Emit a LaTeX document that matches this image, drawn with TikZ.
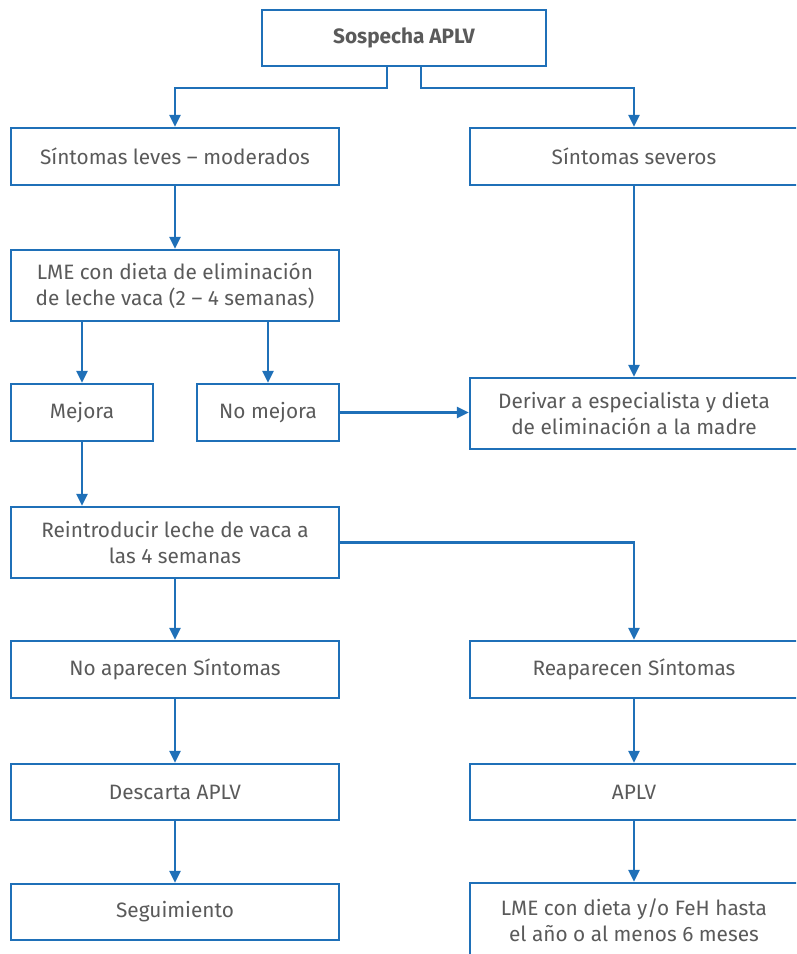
\documentclass[tikz,border=0pt]{standalone}
\usepackage{fontspec}
\setmainfont{Fira Sans}
\usetikzlibrary{arrows.meta}
\definecolor{bx}{HTML}{1F70B8}
\definecolor{tx}{HTML}{5A5A5A}
\tikzset{
  box/.style={draw=bx, line width=2.4pt, fill=white, inner sep=0pt, align=center,
    text=tx, font=\fontsize{20.8}{26}\selectfont},
  arr/.style={draw=bx, line width=2.4pt, -{Triangle[width=11pt,length=12pt]}},
}
\begin{document}
\begin{tikzpicture}[x=1pt,y=-1pt]
\useasboundingbox (0,0) rectangle (796,954);
\clip (0,0) rectangle (796,954);
\node[box, minimum width=284, minimum height=56, font=\fontsize{20.8}{26}\selectfont\bfseries] (top) at (404,38) {Sospecha APLV};
\node[box, minimum width=328, minimum height=57] (leves) at (175,156.5) {Síntomas leves – moderados};
\node[box, minimum width=328, minimum height=57] (sev) at (634,156.5) {Síntomas severos};
\node[box, minimum width=328, minimum height=71] (lme) at (175,285.5) {LME con dieta de eliminación\\de leche vaca (2 – 4 semanas)};
\node[box, minimum width=142, minimum height=57] (mej) at (82,412.5) {Mejora};
\node[box, minimum width=142, minimum height=57] (nomej) at (268,412.5) {No mejora};
\node[box, minimum width=328, minimum height=71] (der) at (634,413.5) {Derivar a especialista y dieta\\de eliminación a la madre};
\node[box, minimum width=328, minimum height=71] (re) at (175,542.5) {Reintroducir leche de vaca a\\las 4 semanas};
\node[box, minimum width=328, minimum height=57] (noap) at (175,669.5) {No aparecen Síntomas};
\node[box, minimum width=328, minimum height=57] (reap) at (634,669.5) {Reaparecen Síntomas};
\node[box, minimum width=328, minimum height=56] (desc) at (175,792) {Descarta APLV};
\node[box, minimum width=328, minimum height=56] (aplv) at (634,792) {APLV};
\node[box, minimum width=328, minimum height=56] (seg) at (175,912) {Seguimiento};
\node[box, minimum width=328, minimum height=74] (fin) at (634,920) {LME con dieta y/o FeH hasta\\el año o al menos 6 meses};
\draw[arr] ([xshift=-17pt]top.south) -- ++(0,21) -| (leves.north);
\draw[arr] ([xshift=17pt]top.south) -- ++(0,21) -| (sev.north);
\draw[arr] (leves.south) -- (lme.north);
\draw[arr] (lme.south -| mej.north) -- (mej.north);
\draw[arr] (lme.south -| nomej.north) -- (nomej.north);
\draw[arr] (sev.south) -- (der.north);
\draw[arr] (nomej.east) -- (der.west |- nomej.east);
\draw[arr] (mej.south) -- (mej.south |- re.north);
\draw[arr] (re.south) -- (noap.north);
\draw[arr] (re.east) -| (reap.north);
\draw[arr] (noap.south) -- (desc.north);
\draw[arr] (reap.south) -- (aplv.north);
\draw[arr] (desc.south) -- (seg.north);
\draw[arr] (aplv.south) -- (fin.north);
\end{tikzpicture}
\end{document}
